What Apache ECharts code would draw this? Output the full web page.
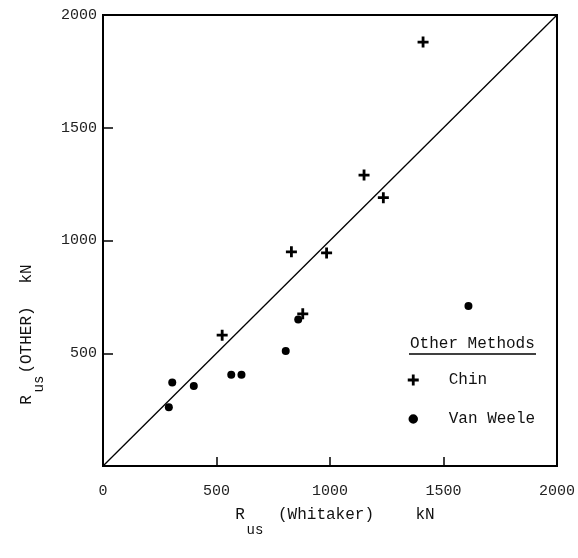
<!DOCTYPE html>
<html>
<head>
<meta charset="utf-8">
<script src="https://cdn.jsdelivr.net/npm/echarts@6/dist/echarts.min.js"></script>
<style>
html,body{margin:0;padding:0;background:#fff;}
#c{width:578px;height:558px;}
</style>
</head>
<body>
<div id="c"></div>
<script>
// Data
const chinX = [1410, 1150, 1235, 830, 985, 525, 880];
const chinY = [1880, 1290, 1190, 950, 945, 580, 675];
const vanWeeleX = [860, 805, 305, 400, 290, 565, 610, 1610];
const vanWeeleY = [650, 510, 370, 355, 260, 405, 405, 710];
const lineX = [0, 2000];
const lineY = [0, 2000];
const xTicks = [0, 500, 1000, 1500, 2000];
const yTicks = [500, 1000, 1500, 2000];
const seriesNames = ['Chin', 'Van Weele'];

const FONT = '"Liberation Mono", "DejaVu Sans Mono", monospace';
const INK = '#000';
const plusPath = 'path://M0,4.1H4.1V0H6.9V4.1H11V6.9H6.9V11H4.1V6.9H0Z';

const zip = (xs, ys) => xs.map((x, i) => [x, ys[i]]);

const chart = echarts.init(document.getElementById('c'), null, {renderer: 'canvas'});
chart.setOption({
  backgroundColor: '#fff',
  animation: false,
  grid: {left: 103, right: 21, top: 15, bottom: 92, show: true, borderColor: INK, borderWidth: 2},
  xAxis: {
    type: 'value', min: 0, max: 2000, interval: 500,
    axisLine: {show: true, lineStyle: {color: INK, width: 2}},
    axisTick: {show: true, inside: true, length: 9, lineStyle: {color: INK, width: 1.5}},
    splitLine: {show: false},
    axisLabel: {
      margin: 18, color: '#222', fontFamily: FONT, fontSize: 15,
      formatter: v => xTicks.includes(v) ? String(v) : ''
    }
  },
  yAxis: {
    type: 'value', min: 0, max: 2000, interval: 500,
    axisLine: {show: true, lineStyle: {color: INK, width: 2}},
    axisTick: {show: true, inside: true, length: 10, lineStyle: {color: INK, width: 1.5}},
    splitLine: {show: false},
    axisLabel: {
      margin: 6, color: '#222', fontFamily: FONT, fontSize: 15,
      formatter: v => yTicks.includes(v) ? String(v) : ''
    }
  },
  legend: {
    orient: 'vertical', left: 402, top: 367, itemGap: 23,
    itemWidth: 11, itemHeight: 11,
    data: [
      {name: seriesNames[0], icon: plusPath},
      {name: seriesNames[1], icon: 'circle', itemStyle: {borderColor: '#fff', borderWidth: 1.5}}
    ],
    textStyle: {
      color: INK, fontFamily: FONT, fontSize: 16,
      rich: {a: {fontFamily: FONT, fontSize: 16, color: '#111', padding: [0, 0, 0, 25]}}
    },
    formatter: n => '{a|' + n + '}'
  },
  graphic: [
    {type: 'text', left: 410, top: 336, style: {text: 'Other Methods', font: '16px ' + FONT, fill: '#111'}},
    {type: 'line', shape: {x1: 409, y1: 354, x2: 536, y2: 354}, style: {stroke: INK, lineWidth: 1.5}},
    // x-axis title
    {type: 'text', x: 240, y: 515, style: {text: 'R', font: '16px ' + FONT, fill: '#111', align: 'center', verticalAlign: 'middle'}},
    {type: 'text', x: 255, y: 530, style: {text: 'us', font: '14px ' + FONT, fill: '#111', align: 'center', verticalAlign: 'middle'}},
    {type: 'text', x: 278, y: 515, style: {text: '(Whitaker)', font: '16px ' + FONT, fill: '#111', align: 'left', verticalAlign: 'middle'}},
    {type: 'text', x: 425, y: 515, style: {text: 'kN', font: '16px ' + FONT, fill: '#111', align: 'center', verticalAlign: 'middle'}},
    // y-axis title (rotated)
    {type: 'text', x: 27, y: 400, rotation: Math.PI / 2, style: {text: 'R', font: '16px ' + FONT, fill: '#111', align: 'center', verticalAlign: 'middle'}},
    {type: 'text', x: 39, y: 384, rotation: Math.PI / 2, style: {text: 'us', font: '14px ' + FONT, fill: '#111', align: 'center', verticalAlign: 'middle'}},
    {type: 'text', x: 27, y: 340, rotation: Math.PI / 2, style: {text: '(OTHER)', font: '16px ' + FONT, fill: '#111', align: 'center', verticalAlign: 'middle'}},
    {type: 'text', x: 27, y: 274, rotation: Math.PI / 2, style: {text: 'kN', font: '16px ' + FONT, fill: '#111', align: 'center', verticalAlign: 'middle'}}
  ],
  series: [
    {
      name: 'diag', type: 'line', data: zip(lineX, lineY), showSymbol: false, symbol: 'none',
      lineStyle: {color: INK, width: 1.3}, silent: true, z: 1
    },
    {
      name: seriesNames[0], type: 'scatter', data: zip(chinX, chinY),
      symbol: plusPath, symbolSize: 11, itemStyle: {color: INK, opacity: 1}, z: 3
    },
    {
      name: seriesNames[1], type: 'scatter', data: zip(vanWeeleX, vanWeeleY),
      symbol: 'circle', symbolSize: 8, itemStyle: {color: INK, opacity: 1}, z: 3
    }
  ]
});
</script>
</body>
</html>
